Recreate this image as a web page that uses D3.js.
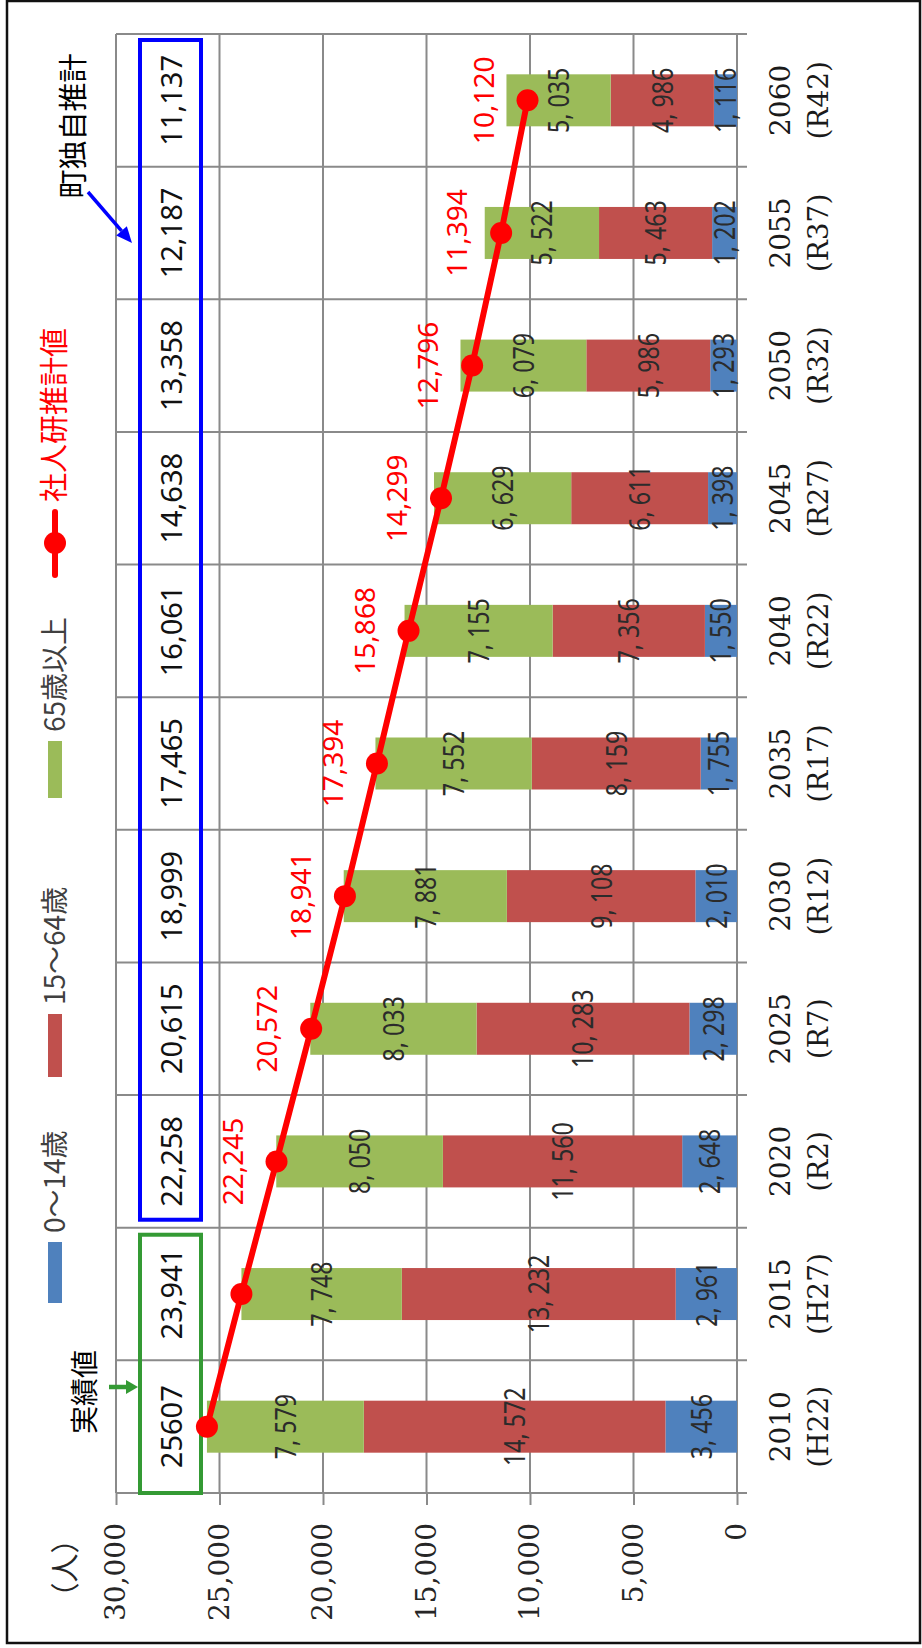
<!DOCTYPE html>
<html>
<head>
<meta charset="utf-8">
<script src="https://cdn.jsdelivr.net/npm/d3@7/dist/d3.min.js"></script>
<style>
html, body { margin: 0; padding: 0; background: #fff; }
svg { display: block; }
</style>
</head>
<body>
<svg id="chart" width="922" height="1648"></svg>
<script>
// dados
var years = ["2010", "2015", "2020", "2025", "2030", "2035", "2040", "2045", "2050", "2055", "2060"];
var eras = ["(H22)", "(H27)", "(R2)", "(R7)", "(R12)", "(R17)", "(R22)", "(R27)", "(R32)", "(R37)", "(R42)"];
var age0to14 = [3456, 2961, 2648, 2298, 2010, 1755, 1550, 1398, 1293, 1202, 1116];
var age15to64 = [14572, 13232, 11560, 10283, 9108, 8159, 7356, 6611, 5986, 5463, 4986];
var age65plus = [7579, 7748, 8050, 8033, 7881, 7552, 7155, 6629, 6079, 5522, 5035];
var ipssEstimate = [25607, 23941, 22245, 20572, 18941, 17394, 15868, 14299, 12796, 11394, 10120];
var townTotals = ["25607", "23,941", "22,258", "20,615", "18,999", "17,465", "16,061", "14,638", "13,358", "12,187", "11,137"];
var yTicks = [0, 5000, 10000, 15000, 20000, 25000, 30000];
var seriesNames = ["0～14歳", "15～64歳", "65歳以上"];
var lineName = "社人研推計値";

var colors = ["#4f81bd", "#c0504d", "#9bbb59"];
var gridColor = "#8a8a8a";
var lineColor = "#ff0000";

var svg = d3.select("#chart");

// moldura externa
svg.append("rect")
	.attr("x", 7).attr("y", 1)
	.attr("width", 913).attr("height", 1642)
	.attr("fill", "none")
	.attr("stroke", "#111")
	.attr("stroke-width", 2.5);

// o gráfico é desenhado "deitado" e girado -90 graus
var g = svg.append("g")
	.attr("transform", "translate(0,1648) rotate(-90)");

var x = d3.scaleBand().domain(years).range([155, 1614]);
var y = d3.scaleLinear().domain([0, 30000]).range([737, 116]);
var bw = x.bandwidth();
var barW = 52;

function cx(i) { return x(years[i]) + bw / 2; }

// linhas de grade horizontais
g.append("g").selectAll("line")
	.data(yTicks)
	.enter().append("line")
	.attr("x1", 155).attr("x2", 1614)
	.attr("y1", function(d) { return y(d); })
	.attr("y2", function(d) { return y(d); })
	.attr("stroke", gridColor)
	.attr("stroke-width", 2);

// divisões entre categorias
var bounds = years.map(function(d) { return x(d); }).concat([x(years[years.length - 1]) + bw]);
g.append("g").selectAll("line")
	.data(bounds)
	.enter().append("line")
	.attr("x1", function(d) { return d; })
	.attr("x2", function(d) { return d; })
	.attr("y1", y(30000))
	.attr("y2", y(0) + 10)
	.attr("stroke", gridColor)
	.attr("stroke-width", 2);

// eixo de valores
var yAxis = d3.axisLeft(y)
	.tickValues(yTicks)
	.tickSize(12)
	.tickPadding(18)
	.tickFormat(d3.format(","));

var axisG = g.append("g")
	.attr("transform", "translate(155,0)")
	.call(yAxis);
axisG.select(".domain").remove();
axisG.selectAll(".tick line").attr("stroke", gridColor).attr("stroke-width", 2);
axisG.selectAll(".tick text")
	.attr("font-family", "'DejaVu Serif', serif")
	.attr("font-size", 28)
	.attr("fill", "#262626");

// (人)
g.append("text")
	.attr("x", 80).attr("y", 76)
	.attr("text-anchor", "middle")
	.attr("font-family", "'Noto Sans CJK JP', sans-serif")
	.attr("font-size", 29)
	.attr("fill", "#262626")
	.text("（人）");

// rótulos das categorias
var cat = g.append("g").selectAll("text")
	.data(years)
	.enter().append("text")
	.attr("text-anchor", "middle")
	.attr("font-family", "'DejaVu Serif', serif")
	.attr("font-size", 28)
	.attr("fill", "#1a1a1a");
cat.append("tspan")
	.attr("x", function(d, i) { return cx(i); })
	.attr("y", 790)
	.text(function(d) { return d; });
cat.append("tspan")
	.attr("x", function(d, i) { return cx(i); })
	.attr("y", 828)
	.text(function(d, i) { return eras[i]; });

// barras empilhadas
var rows = years.map(function(d, i) {
	return { year: d, a: age0to14[i], b: age15to64[i], c: age65plus[i] };
});
var stacked = d3.stack().keys(["a", "b", "c"])(rows);

var layers = g.append("g").selectAll("g")
	.data(stacked)
	.enter().append("g")
	.attr("fill", function(d, i) { return colors[i]; });

layers.selectAll("rect")
	.data(function(d) { return d; })
	.enter().append("rect")
	.attr("x", function(d) { return x(d.data.year) + (bw - barW) / 2; })
	.attr("width", barW)
	.attr("y", function(d) { return y(d[1]); })
	.attr("height", function(d) { return y(d[0]) - y(d[1]); });

// rótulos das barras (fonte estreita)
var fmtBar = d3.format(",");
layers.selectAll("text")
	.data(function(d) { return d; })
	.enter().append("text")
	.attr("transform", function(d) {
		return "translate(" + (x(d.data.year) + bw / 2) + "," + y((d[0] + d[1]) / 2) + ") scale(0.8,1)";
	})
	.attr("dy", "0.36em")
	.attr("text-anchor", "middle")
	.attr("font-family", "'Noto Sans', sans-serif")
	.attr("font-size", 29)
	.attr("fill", "#2b2b2b")
	.text(function(d) { return fmtBar(d[1] - d[0]).replace(",", ", "); });

// caixas: 実績値 (verde) e 町独自推計 (azul)
g.append("rect")
	.attr("x", x(years[0]))
	.attr("y", 140)
	.attr("width", x(years[1]) + bw - 7 - x(years[0]))
	.attr("height", 61)
	.attr("fill", "none")
	.attr("stroke", "#349a34")
	.attr("stroke-width", 4);

g.append("rect")
	.attr("x", x(years[2]) + 8)
	.attr("y", 140)
	.attr("width", x(years[years.length - 1]) + bw - 6 - x(years[2]) - 8)
	.attr("height", 61)
	.attr("fill", "none")
	.attr("stroke", "#0000ff")
	.attr("stroke-width", 4);

g.append("g").selectAll("text")
	.data(townTotals)
	.enter().append("text")
	.attr("x", function(d, i) { return cx(i); })
	.attr("y", 172)
	.attr("dy", "0.36em")
	.attr("text-anchor", "middle")
	.attr("font-family", "'Noto Sans', sans-serif")
	.attr("font-size", 29)
	.attr("fill", "#111")
	.text(function(d) { return d; });

// linha 社人研推計値
var line = d3.line()
	.x(function(d, i) { return cx(i); })
	.y(function(d) { return y(d); });

g.append("path")
	.datum(ipssEstimate)
	.attr("d", line)
	.attr("fill", "none")
	.attr("stroke", lineColor)
	.attr("stroke-width", 6)
	.attr("stroke-linejoin", "round");

g.append("g").selectAll("circle")
	.data(ipssEstimate)
	.enter().append("circle")
	.attr("cx", function(d, i) { return cx(i); })
	.attr("cy", function(d) { return y(d); })
	.attr("r", 11)
	.attr("fill", lineColor);

var fmt = d3.format(",");
g.append("g").selectAll("text")
	.data(ipssEstimate)
	.enter().filter(function(d, i) { return i >= 2; })
	.append("text")
	.attr("x", function(d) { return cx(ipssEstimate.indexOf(d)); })
	.attr("y", function(d) { return y(d) - 44; })
	.attr("dy", "0.36em")
	.attr("text-anchor", "middle")
	.attr("font-family", "'Noto Sans', sans-serif")
	.attr("font-size", 28)
	.attr("fill", lineColor)
	.text(function(d) { return fmt(d); });

// legenda
var legendFont = "'Noto Sans CJK JP', sans-serif";
var legendPos = [345, 571, 850];
var legendLen = [61, 63, 57];
seriesNames.forEach(function(name, i) {
	g.append("rect")
		.attr("x", legendPos[i])
		.attr("y", 48)
		.attr("width", legendLen[i])
		.attr("height", 14)
		.attr("fill", colors[i]);
	g.append("text")
		.attr("x", legendPos[i] + legendLen[i] + 9)
		.attr("y", 65)
		.attr("font-family", legendFont)
		.attr("font-size", 28)
		.attr("fill", "#404040")
		.text(name);
});

g.append("line")
	.attr("x1", 1073).attr("x2", 1136)
	.attr("y1", 55).attr("y2", 55)
	.attr("stroke", lineColor)
	.attr("stroke-width", 6)
	.attr("stroke-linecap", "round");
g.append("circle")
	.attr("cx", 1105).attr("cy", 55)
	.attr("r", 11)
	.attr("fill", lineColor);
g.append("text")
	.attr("x", 1146)
	.attr("y", 65)
	.attr("font-family", legendFont)
	.attr("font-size", 29)
	.attr("fill", lineColor)
	.text(lineName);

// anotações
g.append("text")
	.attr("x", 256).attr("y", 95)
	.attr("text-anchor", "middle")
	.attr("font-family", legendFont)
	.attr("font-size", 28)
	.attr("fill", "#000")
	.text("実績値");

g.append("text")
	.attr("x", 1522).attr("y", 84)
	.attr("text-anchor", "middle")
	.attr("font-family", legendFont)
	.attr("font-size", 29)
	.attr("fill", "#000")
	.text("町独自推計");

/**
 * Desenha seta simples de (x1,y1) até a ponta (x2,y2)
 */
function arrow(x1, y1, x2, y2, color, w, headLen, headW) {
	var dx = x2 - x1, dy = y2 - y1;
	var len = Math.sqrt(dx * dx + dy * dy);
	var ux = dx / len, uy = dy / len;
	var bx = x2 - ux * headLen, by = y2 - uy * headLen;
	g.append("line")
		.attr("x1", x1).attr("y1", y1)
		.attr("x2", bx).attr("y2", by)
		.attr("stroke", color)
		.attr("stroke-width", w);
	g.append("path")
		.attr("d", "M" + x2 + "," + y2 +
			"L" + (bx - uy * headW) + "," + (by + ux * headW) +
			"L" + (bx + uy * headW) + "," + (by - ux * headW) + "Z")
		.attr("fill", color);
}

arrow(261, 109, 261, 138, "#349a34", 4.5, 12, 7);
arrow(1456, 88, 1405, 132, "#0000ff", 3.5, 16, 7);
</script>
</body>
</html>
